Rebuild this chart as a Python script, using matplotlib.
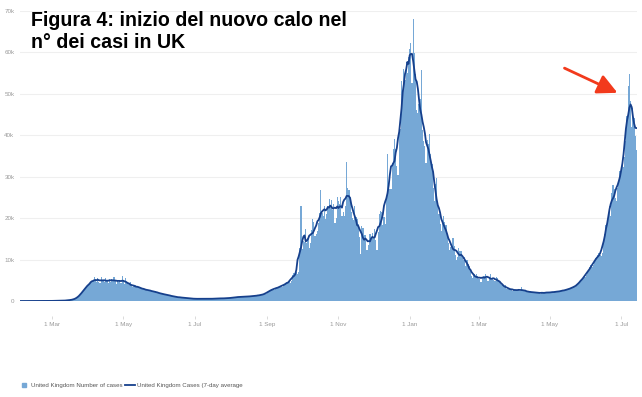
import numpy as np
import pandas as pd
import matplotlib
matplotlib.use('Agg')
import matplotlib.pyplot as plt
from matplotlib.lines import Line2D

plt.rcParams['font.family'] = ['Liberation Sans', 'DejaVu Sans']

# Daily new cases in the UK (thousands), one row per week
start_date = '2020-02-03'
cases_k = [
    0, 0, 0, 0, 0, 0, 0,
    0, 0, 0, 0, 0, 0, 0,
    0, 0, 0, 0, 0, 0, 0,
    0, 0, 0, 0.01, 0.01, 0.02, 0.02,
    0.03, 0.04, 0.05, 0.05, 0.08, 0.1, 0.15,
    0.05, 0.06, 0.08, 0.1, 0.12, 0.15, 0.2,
    0.22, 0.25, 0.3, 0.35, 0.4, 0.5, 0.7,
    0.9, 1.2, 1.5, 1.8, 2.2, 2.6, 3.0,
    3.3, 3.7, 4.0, 4.3, 4.5, 4.6, 4.8,
    5.9, 5.2, 4.6, 5.5, 4.7, 4.4, 5.8,
    4.8, 5.1, 4.5, 5.6, 4.9, 4.3, 5.2,
    4.6, 5.3, 4.8, 5.9, 5.0, 4.2, 4.9,
    4.5, 5.0, 4.4, 6.0, 4.8, 4.1, 5.5,
    4.3, 4.0, 3.9, 4.6, 3.7, 3.4, 3.6,
    3.8, 3.3, 3.6, 3.4, 3.1, 3.2, 3.0,
    2.9, 2.6, 2.8, 3.0, 2.5, 2.4, 2.6,
    2.4, 2.2, 2.5, 2.3, 2.1, 1.9, 2.1,
    1.9, 1.7, 1.8, 1.7, 1.6, 1.5, 1.6,
    1.4, 1.3, 1.4, 1.2, 1.2, 1.1, 1.0,
    1.0, 0.9, 1.0, 0.9, 0.8, 0.8, 0.9,
    0.7, 0.7, 0.8, 0.6, 0.6, 0.6, 0.7,
    0.5, 0.5, 0.6, 0.5, 0.5, 0.5, 0.6,
    0.5, 0.5, 0.6, 0.5, 0.5, 0.5, 0.6,
    0.5, 0.5, 0.6, 0.5, 0.6, 0.5, 0.6,
    0.6, 0.6, 0.7, 0.6, 0.6, 0.6, 0.7,
    0.6, 0.7, 0.7, 0.7, 0.8, 0.7, 0.7,
    0.8, 0.9, 1.0, 0.9, 1.0, 0.9, 1.0,
    1.0, 1.0, 1.1, 1.0, 1.1, 1.0, 1.1,
    1.1, 1.2, 1.2, 1.1, 1.3, 1.2, 1.3,
    1.3, 1.4, 1.4, 1.5, 1.5, 1.6, 1.7,
    1.8, 2.0, 2.3, 2.5, 2.7, 3.0, 2.9,
    2.6, 3.0, 3.1, 3.3, 3.5, 3.6, 3.4,
    3.5, 3.9, 3.8, 4.3, 4.6, 4.5, 4.9,
    4.4, 4.9, 6.2, 6.8, 6.6, 7.0, 6.5,
    6.9, 12.9, 22.9, 12.6, 14.5, 14.2, 17.5,
    13.9, 15.2, 12.9, 14.0, 17.2, 19.7, 19.0,
    15.7, 16.2, 17.0, 18.8, 21.3, 26.7, 21.2,
    20.5, 23.0, 19.8, 20.9, 22.9, 24.7, 23.1,
    24.4, 21.9, 23.3, 18.9, 20.0, 25.2, 24.1,
    23.3, 25.0, 20.6, 21.4, 20.4, 23.0, 33.5,
    27.3, 26.9, 25.0, 21.4, 20.1, 19.6, 22.9,
    20.3, 19.9, 18.7, 15.5, 11.3, 18.2, 17.6,
    16.0, 15.9, 12.2, 12.3, 13.4, 16.2, 14.9,
    16.3, 15.5, 17.3, 14.7, 12.3, 16.6, 21.0,
    21.7, 21.5, 18.4, 20.3, 18.5, 25.2, 35.4,
    28.5, 27.1, 27.1, 33.4, 36.8, 39.2, 36.8,
    32.7, 30.5, 41.4, 41.4, 53.1, 50.0, 55.9,
    53.3, 57.7, 55.0, 58.8, 60.9, 62.3, 52.6,
    68.0, 59.9, 54.9, 46.2, 45.5, 47.5, 48.7,
    55.8, 41.3, 38.6, 37.5, 33.4, 38.9, 37.9,
    40.3, 35.6, 33.0, 27.2, 24.1, 28.3, 29.7,
    23.3, 21.1, 18.6, 16.8, 19.2, 20.6, 19.1,
    18.3, 15.8, 14.1, 12.4, 13.0, 13.5, 15.1,
    13.3, 11.0, 9.8, 10.6, 12.7, 12.1, 12.0,
    10.4, 9.8, 10.6, 8.5, 9.9, 9.0, 8.5,
    7.4, 6.0, 5.5, 6.4, 5.8, 6.6, 6.0,
    5.2, 5.2, 4.7, 5.8, 6.0, 6.0, 6.6,
    5.5, 4.8, 5.6, 6.6, 5.1, 5.3, 5.0,
    4.8, 5.9, 5.6, 5.1, 4.6, 4.2, 3.8,
    3.6, 3.4, 3.9, 3.0, 2.8, 3.2, 2.9,
    2.6, 2.5, 3.0, 2.7, 2.6, 2.4, 2.8,
    2.5, 2.4, 3.4, 2.6, 2.5, 2.3, 2.4,
    2.2, 2.1, 2.3, 2.2, 2.0, 2.1, 2.2,
    2.0, 1.9, 2.1, 2.0, 1.8, 1.9, 2.0,
    2.0, 2.1, 2.0, 1.9, 2.1, 2.2, 2.0,
    2.1, 2.2, 2.3, 2.1, 2.2, 2.3, 2.4,
    2.3, 2.4, 2.6, 2.5, 2.7, 2.8, 2.6,
    2.8, 3.0, 3.2, 3.1, 3.4, 3.6, 3.5,
    3.7, 4.0, 4.3, 4.8, 5.3, 5.6, 5.9,
    5.8, 6.2, 7.0, 7.4, 8.1, 8.6, 8.3,
    8.7, 9.3, 10.4, 10.6, 11.0, 11.7, 11.0,
    10.9, 11.6, 14.2, 16.1, 18.3, 18.9, 20.5,
    22.9, 20.5, 26.1, 28.0, 27.1, 24.9, 24.2,
    27.3, 28.8, 31.5, 32.6, 33.7, 32.4, 34.8,
    38.7, 44.6, 51.9, 54.7, 48.2, 42.0, 46.6,
    44.1, 39.9, 36.4,
]

tick_dates = ['2020-03-01', '2020-05-01', '2020-07-01', '2020-09-01', '2020-11-01',
              '2021-01-01', '2021-03-01', '2021-05-01', '2021-07-01']
tick_labels = ['1 Mar', '1 May', '1 Jul', '1 Sep', '1 Nov', '1 Jan', '1 Mar', '1 May', '1 Jul']
y_ticks = [0, 10000, 20000, 30000, 40000, 50000, 60000, 70000]
y_labels = ['0', '10k', '20k', '30k', '40k', '50k', '60k', '70k']

title = 'Figura 4: inizio del nuovo calo nel\nn° dei casi in UK'
legend_labels = ['United Kingdom Number of cases', 'United Kingdom Cases (7-day average']

bar_color = '#76a8d6'
line_color = '#16408c'
grid_color = '#efefef'
label_color = '#9a9a9a'

dates = pd.date_range(start_date, periods=len(cases_k), freq='D')
cases = pd.Series(cases_k, index=dates) * 1000
avg7 = cases.rolling(7, center=True, min_periods=1).mean()

fig = plt.figure(figsize=(6.42, 3.97), dpi=100)
ax = fig.add_axes([20 / 642, 1 - 301 / 397, 617 / 642, 290 / 397])

ax.bar(dates, cases.values, width=1.0, color=bar_color, linewidth=0, zorder=2)
ax.plot(dates, avg7.values, color=line_color, linewidth=1.3, zorder=3)

ax.set_xlim(dates[0] - pd.Timedelta(hours=12), dates[-1] + pd.Timedelta(hours=12))
ax.set_ylim(0, 70000)

ax.set_yticks(y_ticks)
ax.set_yticklabels(y_labels)
ax.set_xticks(pd.to_datetime(tick_dates))
ax.set_xticklabels(tick_labels)

ax.grid(axis='y', color=grid_color, linewidth=0.8, zorder=0)
ax.set_axisbelow(True)
for side in ['top', 'right', 'left', 'bottom']:
    ax.spines[side].set_visible(False)
ax.spines['bottom'].set_position(('outward', 11))

ax.tick_params(axis='y', length=0, pad=4, labelsize=4.5, labelcolor=label_color)
ax.tick_params(axis='x', length=2, width=0.5, color='#cccccc', pad=2,
               labelsize=4.5, labelcolor=label_color)

# title drawn on top of the chart
fig.text(31 / 642, 1 - 11 / 397, title, ha='left', va='top', fontsize=14.1,
         fontweight='bold', color='black', linespacing=1.22)

# red arrow pointing at the latest peak
ax.annotate('', xy=(0.9724, 0.7138), xytext=(0.8784, 0.807), xycoords='axes fraction',
            arrowprops=dict(arrowstyle='-|>,head_length=0.6,head_width=0.3',
                            color='#f23a1c', lw=2.0, mutation_scale=20))

handles = [Line2D([], [], marker='s', linestyle='none', markersize=3.0, color=bar_color),
           Line2D([], [], color=line_color, linewidth=1.3)]
fig.legend(handles, legend_labels, loc='lower left', bbox_to_anchor=(16 / 642, 6 / 397),
           ncol=2, frameon=False, fontsize=4.4, labelcolor='#555555',
           handlelength=1.5, handletextpad=0.4, columnspacing=0.5, borderpad=0)

fig.savefig('out.png', dpi=100)
